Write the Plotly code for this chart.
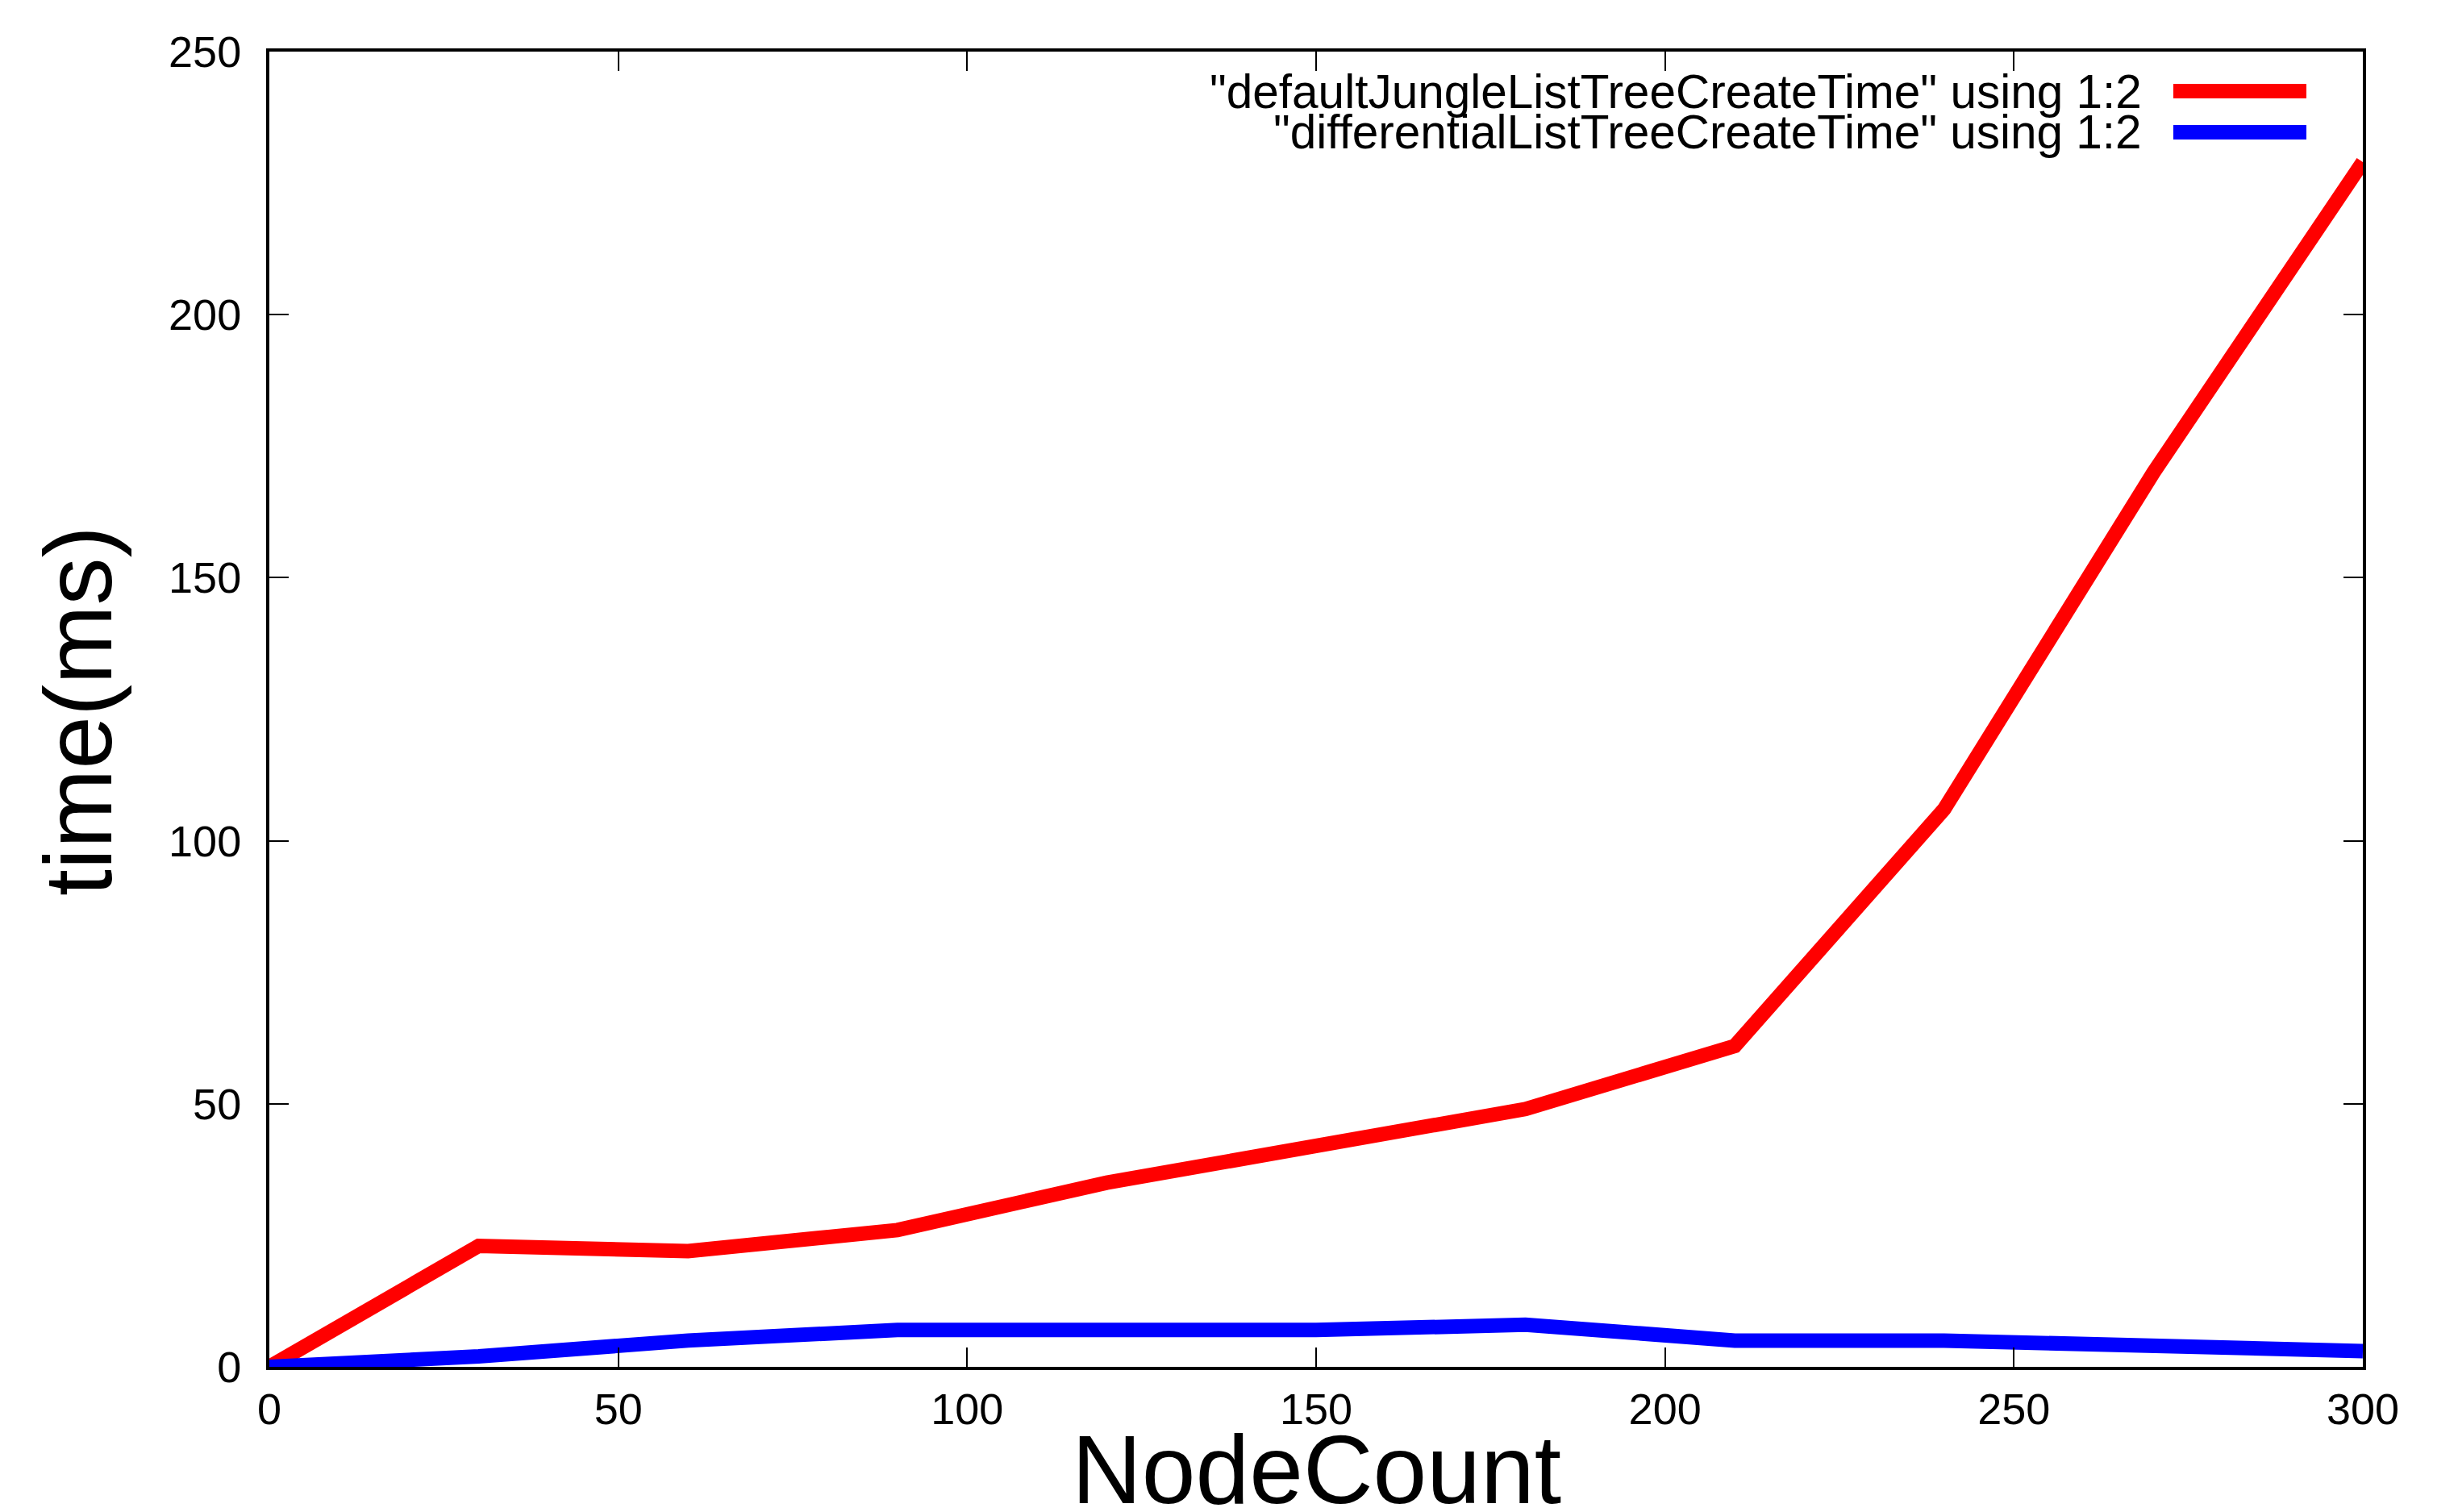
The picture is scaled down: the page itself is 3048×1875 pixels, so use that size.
import plotly.graph_objects as go

# ---- data ----
node_count = [0, 30, 60, 90, 120, 150, 180, 210, 240, 270, 300]
default_jungle = [0, 23, 22, 26, 35, 42, 49, 61, 106, 170, 229]
differential = [0, 2, 5, 7, 7, 7, 8, 5, 5, 4, 3]
series_names = ['"defaultJungleListTreeCreateTime" using 1:2',
                '"differentialListTreeCreateTime" using 1:2']
series_colors = ["#ff0000", "#0000ff"]
x_ticks = [0, 50, 100, 150, 200, 250, 300]
y_ticks = [0, 50, 100, 150, 200, 250]

# page body has an 8px default margin; compensate so the picture lines up
OFF = 8
W, H = 3048 - OFF, 1875 - OFF
L, R, T, B = 334 - OFF, 2930 - OFF, 64 - OFF, 1695 - OFF
PW, PH = R - L, B - T
FONT = "Liberation Sans, Arial, Helvetica, sans-serif"


def px_x(p):
    return (p - OFF - L) / PW


def px_y(p):
    return (B - (p - OFF)) / PH


fig = go.Figure()
for name, ys, col in zip(series_names, [default_jungle, differential], series_colors):
    fig.add_trace(go.Scatter(x=node_count, y=ys, mode="lines", name=name,
                             line=dict(color=col, width=18), showlegend=False))

axis_common = dict(showline=True, linecolor="black", linewidth=4, mirror="ticks",
                   ticks="inside", ticklen=24, tickwidth=2, tickcolor="black",
                   showgrid=False, zeroline=False,
                   tickfont=dict(family=FONT, size=54, color="black"))

fig.update_xaxes(range=[0, 300], tickvals=x_ticks, ticklabelstandoff=2, **axis_common)
fig.update_yaxes(range=[0, 250], tickvals=y_ticks, ticklabelstandoff=20, **axis_common)

annotations = []
shapes = []
# legend (text left, sample line right, like gnuplot)
leg_y = [113, 164]
for name, col, yy in zip(series_names, series_colors, leg_y):
    annotations.append(dict(text=name, xref="paper", yref="paper",
                            x=px_x(2658), y=px_y(yy), xanchor="right", yanchor="middle",
                            showarrow=False, font=dict(family=FONT, size=58.5, color="black")))
    shapes.append(dict(type="line", xref="paper", yref="paper",
                       x0=px_x(2695), x1=px_x(2860), y0=px_y(yy), y1=px_y(yy),
                       line=dict(color=col, width=18)))

# axis titles
annotations.append(dict(text="NodeCount", xref="paper", yref="paper",
                        x=0.5, y=px_y(1822), xanchor="center", yanchor="middle",
                        showarrow=False, font=dict(family=FONT, size=120, color="black")))
annotations.append(dict(text="time(ms)", xref="paper", yref="paper",
                        x=px_x(97), y=px_y(882), xanchor="center", yanchor="middle",
                        textangle=-90, showarrow=False,
                        font=dict(family=FONT, size=118, color="black")))

fig.update_layout(width=W, height=H, autosize=False,
                  margin=dict(l=L, r=W - R, t=T, b=H - B, pad=0),
                  paper_bgcolor="white", plot_bgcolor="white",
                  annotations=annotations, shapes=shapes, showlegend=False)

fig.write_html("out.html", config={"displayModeBar": False})
